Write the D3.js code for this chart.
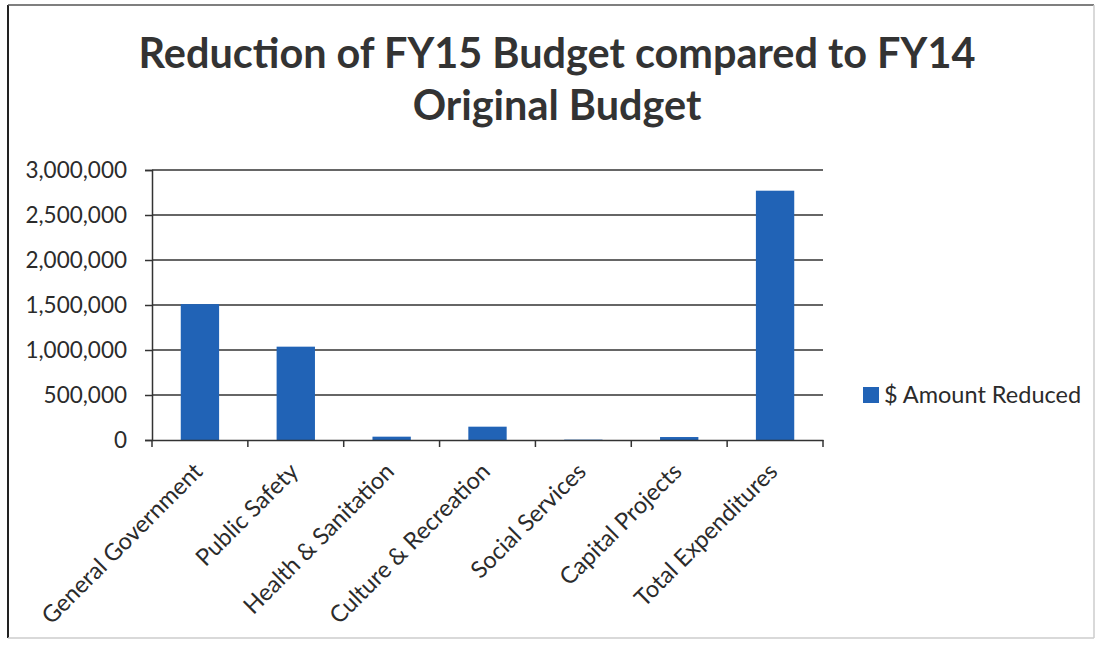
<!DOCTYPE html>
<html>
<head>
<meta charset="utf-8">
<script src="https://cdn.jsdelivr.net/npm/d3@7"></script>
<style>
  html, body { margin: 0; padding: 0; background: #fff; }
  svg { display: block; }
</style>
</head>
<body>
<svg id="chart" width="1098" height="648"></svg>
<script>
// Budget reductions by function, FY15 vs FY14 original budget
const categories = ["General Government", "Public Safety", "Health & Sanitation",
  "Culture & Recreation", "Social Services", "Capital Projects", "Total Expenditures"];
const amountReduced = [1510000, 1037000, 37000, 148000, 4000, 33000, 2770000];
const yTicks = [0, 500000, 1000000, 1500000, 2000000, 2500000, 3000000];
const seriesName = "$ Amount Reduced";
const titleLines = ["Reduction of FY15 Budget compared to FY14", "Original Budget"];

const svg = d3.select("#chart");
const font = "Lato, 'Open Sans', 'DejaVu Sans', sans-serif";
const ink = "#2b2b2b";
const barColor = "#2163b6";

// frame
svg.append("rect").attr("width", 1098).attr("height", 648).attr("fill", "#fff");
svg.append("line").attr("x1", 8).attr("x2", 8).attr("y1", 5).attr("y2", 638)
  .attr("stroke", "#222").attr("stroke-width", 2);
svg.append("line").attr("x1", 8).attr("x2", 1094).attr("y1", 5).attr("y2", 5)
  .attr("stroke", "#555").attr("stroke-width", 1.5);
svg.append("line").attr("x1", 1094).attr("x2", 1094).attr("y1", 5).attr("y2", 638)
  .attr("stroke", "#ccc").attr("stroke-width", 1.5);
svg.append("line").attr("x1", 8).attr("x2", 1094).attr("y1", 638).attr("y2", 638)
  .attr("stroke", "#ccc").attr("stroke-width", 1.5);

// title, sized to span its measured width
const title = svg.append("g").attr("font-family", font).attr("font-weight", "bold")
  .attr("fill", "#333").attr("text-anchor", "middle");
const t1 = title.append("text").attr("x", 557).attr("y", 68).attr("font-size", 37).text(titleLines[0]);
const w1 = t1.node().getComputedTextLength();
const titleSize = 37 * 837 / w1;
t1.attr("font-size", titleSize);
title.append("text").attr("x", 557).attr("y", 120).attr("font-size", titleSize).text(titleLines[1]);

// scales
const x = d3.scaleBand().domain(categories).range([152, 823]).paddingInner(0.6).paddingOuter(0.3);
const y = d3.scaleLinear().domain([0, 3000000]).range([440, 170]);
const fmt = d3.format(",");

// gridlines
svg.append("g").selectAll("line").data(yTicks.filter(d => d > 0)).join("line")
  .attr("x1", 152).attr("x2", 823)
  .attr("y1", d => y(d)).attr("y2", d => y(d))
  .attr("stroke", "#333").attr("stroke-width", 1.5);

// bars
svg.append("g").selectAll("rect").data(amountReduced).join("rect")
  .attr("x", (d, i) => x(categories[i]))
  .attr("width", x.bandwidth())
  .attr("y", d => y(d))
  .attr("height", d => y(0) - y(d))
  .attr("fill", barColor);

// y axis
const yAxis = svg.append("g").attr("transform", "translate(152,0)")
  .call(d3.axisLeft(y).tickValues(yTicks).tickFormat(fmt).tickSize(7).tickPadding(18));
yAxis.select(".domain").attr("stroke", "#333").attr("stroke-width", 1.5);
yAxis.selectAll(".tick line").attr("stroke", "#333").attr("stroke-width", 1.5);
yAxis.selectAll(".tick text").attr("font-family", font).attr("font-size", 22.5)
  .attr("fill", ink).attr("dy", "0.35em");

// x axis with ticks at category boundaries
const xAxis = svg.append("g").attr("transform", "translate(0,440)")
  .call(d3.axisBottom(x).tickSize(0).tickFormat(""));
xAxis.select(".domain").attr("stroke", "#333").attr("stroke-width", 1.5);
const step = x.step();
const bounds = d3.range(categories.length + 1).map(i => 152 + i * step);
xAxis.append("g").selectAll("line").data(bounds).join("line")
  .attr("x1", d => d).attr("x2", d => d).attr("y1", 0).attr("y2", 7)
  .attr("stroke", "#333").attr("stroke-width", 1.5);

// rotated category labels
svg.append("g").selectAll("text").data(categories).join("text")
  .attr("transform", d => `translate(${x(d) + x.bandwidth() / 2 + 4},473) rotate(-45)`)
  .attr("text-anchor", "end")
  .attr("font-family", font).attr("font-size", 23.5).attr("fill", ink)
  .text(d => d);

// legend
const legend = svg.append("g");
legend.append("rect").attr("x", 863).attr("y", 387).attr("width", 16).attr("height", 16)
  .attr("fill", barColor);
legend.append("text").attr("x", 884).attr("y", 403)
  .attr("font-family", font).attr("font-size", 23.5).attr("fill", ink).text(seriesName);
</script>
</body>
</html>
